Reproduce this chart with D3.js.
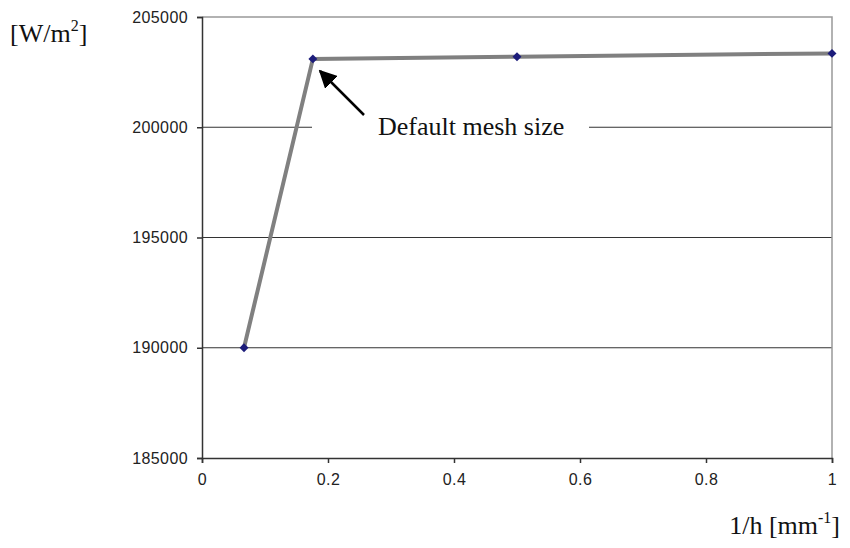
<!DOCTYPE html>
<html>
<head>
<meta charset="utf-8">
<script src="https://cdn.jsdelivr.net/npm/d3@7"></script>
<style>
  body { margin: 0; background: #fff; }
  svg { display: block; }
</style>
</head>
<body>
<div id="chart"></div>
<script>
// datos del gráfico
const xValues = [0.0667, 0.176, 0.5, 1];
const yValues = [190000, 203100, 203200, 203350];
const xTicks = [0, 0.2, 0.4, 0.6, 0.8, 1];
const yTicks = [185000, 190000, 195000, 200000, 205000];
const yLabel = "W/m";
const xLabel = "1/h [mm";
const noteText = "Default mesh size";

const width = 850, height = 548;
const margin = { left: 202, right: 18, top: 17, bottom: 90 };

const svg = d3.select("#chart").append("svg")
  .attr("width", width)
  .attr("height", height);

const x = d3.scaleLinear().domain([0, 1]).range([margin.left, width - margin.right]);
const y = d3.scaleLinear().domain([185000, 205000]).range([height - margin.bottom, margin.top]);

// líneas de cuadrícula
svg.append("g")
  .selectAll("line")
  .data(yTicks.slice(1, -1))
  .join("line")
  .attr("x1", x(0)).attr("x2", x(1))
  .attr("y1", d => y(d)).attr("y2", d => y(d))
  .attr("stroke", "#333").attr("stroke-width", 1.2);

// borde superior y derecho en gris
svg.append("path")
  .attr("d", `M${x(0)},${y(205000)}H${x(1)}V${y(185000)}`)
  .attr("fill", "none").attr("stroke", "#999").attr("stroke-width", 1.5);

// ejes
const yAxis = svg.append("g")
  .attr("transform", `translate(${x(0)},0)`)
  .call(d3.axisLeft(y).tickValues(yTicks).tickSize(5).tickPadding(9).tickFormat(d3.format("d")));
const xAxis = svg.append("g")
  .attr("transform", `translate(0,${y(185000)})`)
  .call(d3.axisBottom(x).tickValues(xTicks).tickSize(5).tickPadding(11).tickFormat(d => d));

[yAxis, xAxis].forEach(g => {
  g.select(".domain").attr("stroke", "#333").attr("stroke-width", 1.5);
  g.selectAll(".tick line").attr("stroke", "#333").attr("stroke-width", 1.5);
  g.selectAll("text")
    .attr("fill", "#222")
    .style("font-family", "'Liberation Sans', Arial, sans-serif")
    .style("font-size", "16px")
    .style("letter-spacing", "0.4px");
});

// anotación con fondo blanco que tapa la cuadrícula
const note = svg.append("g");
note.append("rect")
  .attr("x", 312).attr("y", y(200000) - 14)
  .attr("width", 277).attr("height", 28)
  .attr("fill", "#fff");

// serie
const line = d3.line().x((d, i) => x(xValues[i])).y(d => y(d));
svg.append("path")
  .datum(yValues)
  .attr("d", line)
  .attr("fill", "none")
  .attr("stroke", "#808080")
  .attr("stroke-width", 4);

// marcadores en forma de rombo (cuadrado girado)
svg.append("g")
  .selectAll("path")
  .data(yValues)
  .join("path")
  .attr("transform", (d, i) => `translate(${x(xValues[i])},${y(d)}) rotate(45)`)
  .attr("d", d3.symbol(d3.symbolSquare, 40))
  .attr("fill", "#1c1c7a");

const serif = "'Liberation Serif', 'Times New Roman', serif";

note.append("text")
  .attr("x", 378).attr("y", 135)
  .style("font-family", serif)
  .style("font-size", "26px")
  .attr("fill", "#111")
  .text(noteText);

// flecha
svg.append("defs").append("marker")
  .attr("id", "arrow")
  .attr("viewBox", "0 0 10 10")
  .attr("refX", 9).attr("refY", 5)
  .attr("markerWidth", 18).attr("markerHeight", 18)
  .attr("markerUnits", "userSpaceOnUse")
  .attr("orient", "auto")
  .append("path")
  .attr("d", "M0,0L10,5L0,10z")
  .attr("fill", "#000");

svg.append("line")
  .attr("x1", 364).attr("y1", 115)
  .attr("x2", 320).attr("y2", 71)
  .attr("stroke", "#000").attr("stroke-width", 2.5)
  .attr("marker-end", "url(#arrow)");

// títulos de ejes
const yt = svg.append("text")
  .attr("x", 10).attr("y", 42)
  .style("font-family", serif).style("font-size", "26px").attr("fill", "#111");
yt.append("tspan").text("[" + yLabel);
yt.append("tspan").attr("dy", -11).style("font-size", "16px").text("2");
yt.append("tspan").attr("dy", 11).text("]");

const xt = svg.append("text")
  .attr("x", 840).attr("y", 534)
  .attr("text-anchor", "end")
  .style("font-family", serif).style("font-size", "26px").attr("fill", "#111");
xt.append("tspan").text(xLabel);
xt.append("tspan").attr("dy", -11).style("font-size", "16px").text("-1");
xt.append("tspan").attr("dy", 11).text("]");
</script>
</body>
</html>
